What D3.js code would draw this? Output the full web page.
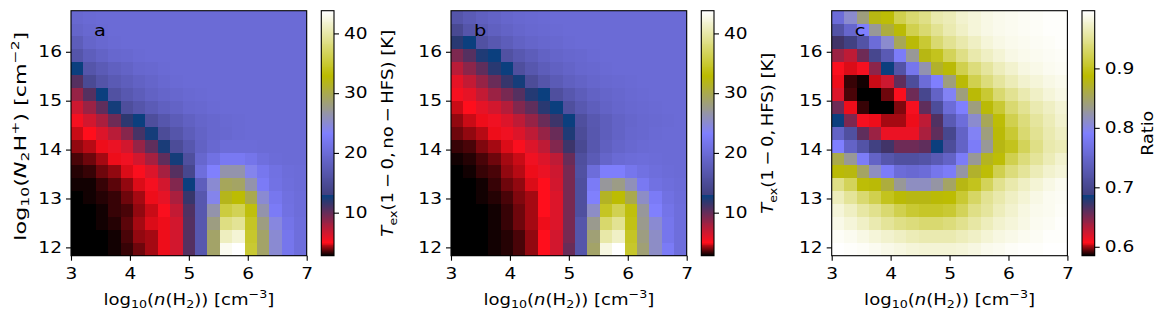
<!DOCTYPE html>
<html>
<head>
<meta charset="utf-8">
<script src="https://cdn.jsdelivr.net/npm/d3@7"></script>
<style>
  body { margin: 0; background: #fff; }
  svg { display: block; }
  text { font-family: "DejaVu Sans", sans-serif; fill: #000; }
</style>
</head>
<body>
<div id="chart"></div>
<script>
// --- Data ---
const xExtent = [3, 7];          // log10 n(H2) cell extent
const yExtent = [11.83, 16.84];  // log10 N(N2H+) cell extent
const xTicks = [3, 4, 5, 6, 7];
const yTicks = [12, 13, 14, 15, 16];
const tRange = [2.8, 43.8];
const tTicks = [10, 20, 30, 40];
const ratioRange = [0.585, 0.997];
const ratioTicks = [0.6, 0.7, 0.8, 0.9];

// rows run from the top (high N) to the bottom (low N), columns from n = 10^3 to 10^7
const texNoHfs = [
  [19.6,19.9,20,20,20,20,20,20,20,20,20,20,20,20,20,20,20,20,20],
  [19.0,19.6,19.9,20,20,20,20,20,20,20,20,20,20,20,20,20,20,20,20],
  [17.8,19.0,19.5,19.8,20,20,20,20,20,20,20,20,20,20,20,20,20,20,20],
  [16.5,18.0,18.8,19.3,19.6,19.8,20,20,20,20,20,20,20,20,20,20,20,20,20],
  [13.0,16.5,17.5,18.3,18.8,19.3,19.6,19.8,20,20,20,20,20,20,20,20,20,20,20],
  [10.5,14.8,16.3,17.3,18.0,18.6,19.1,19.5,19.8,20,20,20,20,20,20,20,20,20,20],
  [8.5,10.5,13.0,15.8,17.0,17.8,18.5,19.0,19.4,19.7,19.9,20,20,20,20,20,20,20,20],
  [6.8,8.3,10.3,12.6,15.3,16.5,17.4,18.2,18.8,19.3,19.6,19.8,20,20,20,20,20,20,20],
  [5.5,6.5,7.8,9.8,11.8,13.0,15.3,16.6,17.6,18.4,19.0,19.4,19.7,19.9,20,20,20,20,20],
  [4.7,5.2,6.3,7.4,9.0,11.0,12.7,15.0,16.5,17.8,18.8,19.3,19.6,19.8,20,20,20,20,20],
  [4.2,4.5,5.0,5.8,6.6,8.5,10.2,12.5,15.0,16.8,18.5,19.6,20.2,20.2,20.1,20,20,20,20],
  [3.6,3.9,4.4,4.9,5.6,6.6,8.0,10.2,12.6,15.5,19.3,21.0,22.3,22.3,21.6,20.6,20.2,20,20],
  [3.2,3.4,3.8,4.2,4.8,5.3,6.3,8.0,10.5,14.3,20.5,23.3,26.5,26.5,24.0,22.0,21.0,20.4,20.2],
  [3.0,3.1,3.3,3.7,4.2,4.8,5.5,6.6,9.2,13.0,18.0,25.0,29.5,29.2,26.5,22.5,21.2,20.5,20.2],
  [2.8,3.0,3.2,3.4,3.8,4.4,5.0,6.0,7.8,11.5,16.8,24.0,31.8,33.0,30.0,25.0,22.0,20.8,20.3],
  [2.8,2.8,3.0,3.3,3.6,4.1,4.7,5.3,7.0,10.8,16.8,26.5,35.5,36.5,33.5,26.5,22.5,21.0,20.4],
  [2.8,2.8,3.0,3.2,3.7,4.4,4.8,5.0,6.6,10.5,16.8,28.0,38.5,39.3,34.5,28.0,24.5,21.5,20.5],
  [2.8,2.8,2.8,3.1,3.5,4.1,4.4,5.0,6.6,10.5,16.8,29.0,41.0,42.0,34.8,29.0,25.0,21.7,20.5],
  [2.8,2.8,2.8,3.0,3.3,3.8,4.3,5.0,6.6,10.5,16.8,29.0,43.0,43.7,35.0,29.0,25.0,21.7,20.5]
];

const texHfs = [
  [16.5,17.5,18.2,18.8,19.2,19.5,19.7,19.8,20,20,20,20,20,20,20,20,20,20,20],
  [14.5,16.5,17.5,18.2,18.8,19.2,19.5,19.7,19.8,20,20,20,20,20,20,20,20,20,20],
  [12.0,13.0,15.8,17.0,17.8,18.5,19.0,19.4,19.6,19.8,20,20,20,20,20,20,20,20,20],
  [9.3,10.5,12.3,13.0,15.8,17.0,17.8,18.5,19.0,19.3,19.6,19.8,20,20,20,20,20,20,20],
  [7.3,8.8,10.2,12.0,13.0,15.5,16.8,17.7,18.4,18.9,19.3,19.6,19.8,20,20,20,20,20,20],
  [6.0,7.0,8.5,10.0,11.5,12.7,15.0,16.5,17.4,18.2,18.8,19.2,19.5,19.7,19.9,20,20,20,20],
  [5.4,6.0,7.0,8.3,9.5,10.5,12.2,13.0,15.5,16.8,17.8,18.5,19.0,19.4,19.7,19.9,20,20,20],
  [4.7,5.1,6.0,6.6,7.6,9.2,10.3,12.0,13.0,15.5,17.0,18.0,18.7,19.2,19.5,19.7,19.9,20,20],
  [4.2,4.6,5.0,5.6,6.3,7.2,8.5,10.0,11.3,13.0,15.5,17.0,18.0,18.7,19.2,19.5,19.7,19.9,20],
  [3.8,4.1,4.5,5.0,5.6,6.2,7.2,8.5,10.0,12.3,15.0,16.8,18.0,18.8,19.3,19.6,19.8,20,20],
  [3.3,3.6,4.0,4.4,4.8,5.3,6.3,7.2,9.2,11.3,14.5,16.8,18.2,19.0,19.5,19.8,20,20,20],
  [3.0,3.2,3.5,3.8,4.3,4.7,5.6,6.3,7.2,10.0,15.5,17.5,19.0,19.8,20.2,20.3,20.2,20,20],
  [2.8,3.0,3.3,3.5,4.1,4.5,5.0,5.8,6.8,9.5,15.8,20.3,23.0,23.0,21.7,21.0,20.5,20.2,20],
  [2.8,2.8,3.0,3.3,3.8,4.2,4.8,5.2,6.6,9.5,15.5,22.5,27.0,27.8,26.0,22.3,21.0,20.5,20.2],
  [2.8,2.8,3.0,3.2,3.5,4.0,4.4,5.2,6.3,9.5,15.5,23.3,31.5,33.0,30.0,25.5,22.5,21.0,20.4],
  [2.8,2.8,2.9,3.1,3.4,3.8,4.4,5.1,6.3,9.5,15.5,25.5,34.5,36.3,33.5,27.0,23.3,21.5,20.5],
  [2.8,2.8,2.8,3.0,3.3,3.8,4.3,5.0,6.3,9.5,16.5,27.5,37.5,39.0,33.8,27.5,25.0,21.7,20.5],
  [2.8,2.8,2.8,3.0,3.2,3.6,4.2,5.1,6.6,9.5,16.5,28.5,40.0,41.3,34.5,28.0,25.5,21.7,20.5],
  [2.8,2.8,2.8,3.0,3.2,3.6,4.2,5.2,6.6,10.0,16.5,29.0,42.5,43.7,34.8,28.5,25.5,22.5,20.5]
];

const ratio = [
  [0.76,0.81,0.84,0.88,0.89,0.92,0.935,0.945,0.96,0.965,0.975,0.98,0.985,0.988,0.99,0.992,0.993,0.994,0.995],
  [0.72,0.75,0.79,0.83,0.865,0.885,0.92,0.935,0.95,0.962,0.972,0.98,0.985,0.988,0.99,0.992,0.993,0.994,0.995],
  [0.67,0.69,0.72,0.76,0.81,0.855,0.885,0.91,0.935,0.95,0.96,0.97,0.98,0.985,0.988,0.99,0.992,0.993,0.994],
  [0.64,0.63,0.655,0.70,0.73,0.785,0.83,0.88,0.90,0.925,0.945,0.96,0.97,0.978,0.985,0.988,0.99,0.992,0.993],
  [0.61,0.605,0.612,0.645,0.688,0.72,0.775,0.82,0.87,0.885,0.92,0.94,0.955,0.967,0.975,0.983,0.987,0.99,0.992],
  [0.607,0.59,0.588,0.604,0.625,0.66,0.71,0.76,0.79,0.84,0.885,0.92,0.94,0.955,0.965,0.975,0.98,0.985,0.988],
  [0.62,0.592,0.585,0.586,0.595,0.61,0.655,0.70,0.745,0.795,0.84,0.885,0.91,0.935,0.95,0.962,0.972,0.98,0.985],
  [0.655,0.607,0.59,0.586,0.586,0.597,0.612,0.66,0.71,0.76,0.79,0.84,0.885,0.91,0.935,0.95,0.962,0.97,0.978],
  [0.688,0.65,0.612,0.607,0.60,0.601,0.607,0.63,0.665,0.73,0.762,0.81,0.855,0.89,0.92,0.94,0.955,0.965,0.975],
  [0.745,0.715,0.66,0.64,0.615,0.614,0.615,0.635,0.66,0.70,0.745,0.795,0.84,0.885,0.91,0.935,0.95,0.962,0.97],
  [0.79,0.745,0.72,0.69,0.67,0.655,0.655,0.66,0.687,0.71,0.745,0.785,0.83,0.88,0.90,0.925,0.945,0.96,0.965],
  [0.86,0.83,0.785,0.745,0.725,0.715,0.715,0.72,0.73,0.745,0.785,0.83,0.875,0.89,0.92,0.94,0.952,0.965,0.975],
  [0.885,0.882,0.85,0.815,0.785,0.76,0.755,0.76,0.775,0.785,0.825,0.87,0.89,0.92,0.94,0.952,0.965,0.975,0.98],
  [0.945,0.925,0.89,0.885,0.865,0.83,0.815,0.815,0.825,0.85,0.88,0.90,0.925,0.948,0.96,0.97,0.978,0.985,0.99],
  [0.967,0.952,0.935,0.92,0.90,0.885,0.88,0.88,0.885,0.888,0.91,0.93,0.95,0.96,0.97,0.978,0.985,0.99,0.992],
  [0.98,0.97,0.958,0.948,0.935,0.92,0.91,0.905,0.905,0.91,0.925,0.945,0.955,0.967,0.975,0.983,0.988,0.99,0.993],
  [0.987,0.98,0.972,0.962,0.952,0.945,0.94,0.935,0.935,0.94,0.948,0.958,0.967,0.975,0.98,0.985,0.99,0.992,0.994],
  [0.993,0.99,0.985,0.98,0.975,0.97,0.965,0.962,0.962,0.963,0.967,0.972,0.978,0.983,0.987,0.99,0.992,0.994,0.995],
  [0.996,0.995,0.993,0.99,0.987,0.984,0.98,0.978,0.978,0.978,0.98,0.984,0.988,0.99,0.993,0.994,0.995,0.996,0.996]
];

// --- Layout ---
const width = 1169, height = 322;
const plotTop = 10.7, plotH = 245, plotW = 235.7;
const tickFont = 15, labelFont = 16, letterFont = 15.5;
const tickStretch = 1.24;

const svg = d3.select("#chart").append("svg")
  .attr("width", width).attr("height", height);

// matplotlib's gist_stern, sampled on a 256 entry table
function gistStern(t) {
  t = Math.max(0, Math.min(1, t));
  t = Math.min(Math.floor(t * 256), 255) / 255;
  let r;
  if (t < 0.0547) r = t / 0.0547;
  else if (t < 0.25) r = 1 + (0.027 - 1) * (t - 0.0547) / (0.25 - 0.0547);
  else r = t;
  const g = t;
  let b;
  if (t < 0.5) b = 2 * t;
  else if (t < 0.735) b = 1 - (t - 0.5) / 0.235;
  else b = (t - 0.735) / 0.265;
  return d3.rgb(r * 255, g * 255, b * 255).toString();
}

// mathtext-like label built from tspans
function mathText(sel, parts) {
  let shift = 0;
  parts.forEach(p => {
    const small = p.sub || p.sup;
    const target = p.sub ? labelFont * 0.22 : p.sup ? -labelFont * 0.38 : 0;
    const ts = sel.append("tspan")
      .attr("dy", (target - shift).toFixed(2))
      .style("font-size", (small ? labelFont * 0.7 : labelFont) + "px")
      .text(p.t);
    if (p.it) ts.style("font-style", "italic");
    shift = target;
  });
}

// place a label at (x, y), rotated by rot, stretched along its baseline to a given length
function label(parts, x, y, rot, length) {
  const t = svg.append("text").attr("text-anchor", "middle").call(mathText, parts);
  const w = t.node().getBBox().width;
  const s = length / w;
  t.attr("transform", `translate(${x},${y}) rotate(${rot}) scale(${s.toFixed(4)},1)`);
  return t;
}

function styleAxis(g) {
  g.select(".domain").remove();
  g.selectAll("line").attr("stroke", "#000").attr("stroke-width", 1.1);
  g.selectAll(".tick text").style("font-size", tickFont + "px").attr("fill", "#000")
    .each(function() {
      const t = d3.select(this);
      const x = +t.attr("x") || 0, y = +t.attr("y") || 0;
      t.attr("x", null).attr("y", null)
        .attr("transform", `translate(${x},${y}) scale(${tickStretch},1)`);
    });
}

const xLabelParts = [{t: "log"}, {t: "10", sub: true}, {t: "("}, {t: "n", it: true}, {t: "(H"},
  {t: "2", sub: true}, {t: "))\u00a0[cm"}, {t: "\u22123", sup: true}, {t: "]"}];
const yLabelParts = [{t: "log"}, {t: "10", sub: true}, {t: "("}, {t: "N", it: true}, {t: "2", sub: true},
  {t: "H"}, {t: "+", sup: true}, {t: ")\u00a0[cm"}, {t: "\u22122", sup: true}, {t: "]"}];
const noHfsParts = [{t: "T", it: true}, {t: "ex", sub: true}, {t: "(1\u2009\u2212\u20090,\u2009no\u2009\u2212\u2009HFS)\u00a0[K]"}];
const hfsParts = [{t: "T", it: true}, {t: "ex", sub: true}, {t: "(1\u2009\u2212\u20090,\u2009HFS)\u00a0[K]"}];

const panels = [
  {letter: "a", data: texNoHfs, left: 71, range: tRange, ticks: tTicks, fmt: d3.format("d"),
   cbParts: noHfsParts, cbLabelX: 393, cbLabelLen: 207, yLabel: true},
  {letter: "b", data: texHfs, left: 451, range: tRange, ticks: tTicks, fmt: d3.format("d"),
   cbParts: hfsParts, cbLabelX: 773, cbLabelLen: 161, yLabel: false},
  {letter: "c", data: ratio, left: 831.7, range: ratioRange, ticks: ratioTicks, fmt: d3.format(".1f"),
   cbParts: [{t: "Ratio"}], cbLabelX: 1153, cbLabelLen: 45, yLabel: false}
];

panels.forEach(p => {
  const x = d3.scaleLinear().domain(xExtent).range([p.left, p.left + plotW]);
  const y = d3.scaleLinear().domain(yExtent).range([plotTop + plotH, plotTop]);
  const nRows = p.data.length, nCols = p.data[0].length;
  const dx = (xExtent[1] - xExtent[0]) / nCols;
  const dy = (yExtent[1] - yExtent[0]) / nRows;
  const norm = d3.scaleLinear().domain(p.range).range([0, 1]);

  const cells = [];
  p.data.forEach((row, i) => row.forEach((v, j) => cells.push({i, j, v})));

  const g = svg.append("g");
  g.selectAll("rect.cell").data(cells).enter().append("rect")
    .attr("class", "cell")
    .attr("x", d => x(xExtent[0] + d.j * dx))
    .attr("y", d => y(yExtent[1] - d.i * dy))
    .attr("width", d => x(xExtent[0] + (d.j + 1) * dx) - x(xExtent[0] + d.j * dx) + 0.4)
    .attr("height", d => y(yExtent[1] - (d.i + 1) * dy) - y(yExtent[1] - d.i * dy) + 0.4)
    .attr("fill", d => gistStern(norm(d.v)))
    .attr("shape-rendering", "crispEdges");

  g.append("text")
    .attr("transform", `translate(${x(3.39)},${y(16.33)}) scale(1.25,1)`)
    .style("font-size", letterFont + "px")
    .text(p.letter);

  const gx = svg.append("g").attr("transform", `translate(0,${plotTop + plotH})`)
    .call(d3.axisBottom(x).tickValues(xTicks).tickFormat(d3.format("d")).tickSize(5).tickPadding(7.3).tickSizeOuter(0));
  styleAxis(gx);
  const gy = svg.append("g").attr("transform", `translate(${p.left},0)`)
    .call(d3.axisLeft(y).tickValues(yTicks).tickFormat(d3.format("d")).tickSize(5).tickPadding(4).tickSizeOuter(0));
  styleAxis(gy);

  svg.append("rect")
    .attr("x", p.left).attr("y", plotTop).attr("width", plotW).attr("height", plotH)
    .attr("fill", "none").attr("stroke", "#000").attr("stroke-width", 1.1);

  label(xLabelParts, p.left + plotW / 2, 304.5, 0, 171);
  if (p.yLabel) label(yLabelParts, 25.5, plotTop + plotH / 2 + 3, -90, 209);

  // colorbar
  const cbLeft = p.left + plotW + 14.6, cbW = 12.7;
  const cy = d3.scaleLinear().domain(p.range).range([plotTop + plotH, plotTop]);
  const slices = d3.range(0, plotH, 1);
  svg.append("g").selectAll("rect").data(slices).enter().append("rect")
    .attr("x", cbLeft).attr("width", cbW)
    .attr("y", d => plotTop + plotH - d - 1).attr("height", 1.2)
    .attr("fill", d => gistStern(norm(cy.invert(plotTop + plotH - d - 0.5))))
    .attr("shape-rendering", "crispEdges");
  svg.append("rect")
    .attr("x", cbLeft).attr("y", plotTop).attr("width", cbW).attr("height", plotH)
    .attr("fill", "none").attr("stroke", "#000").attr("stroke-width", 1.1);
  const gc = svg.append("g").attr("transform", `translate(${cbLeft + cbW},0)`)
    .call(d3.axisRight(cy).tickValues(p.ticks).tickFormat(p.fmt).tickSize(5).tickPadding(5).tickSizeOuter(0));
  styleAxis(gc);

  label(p.cbParts, p.cbLabelX, plotTop + plotH / 2, -90, p.cbLabelLen);
});
</script>
</body>
</html>
